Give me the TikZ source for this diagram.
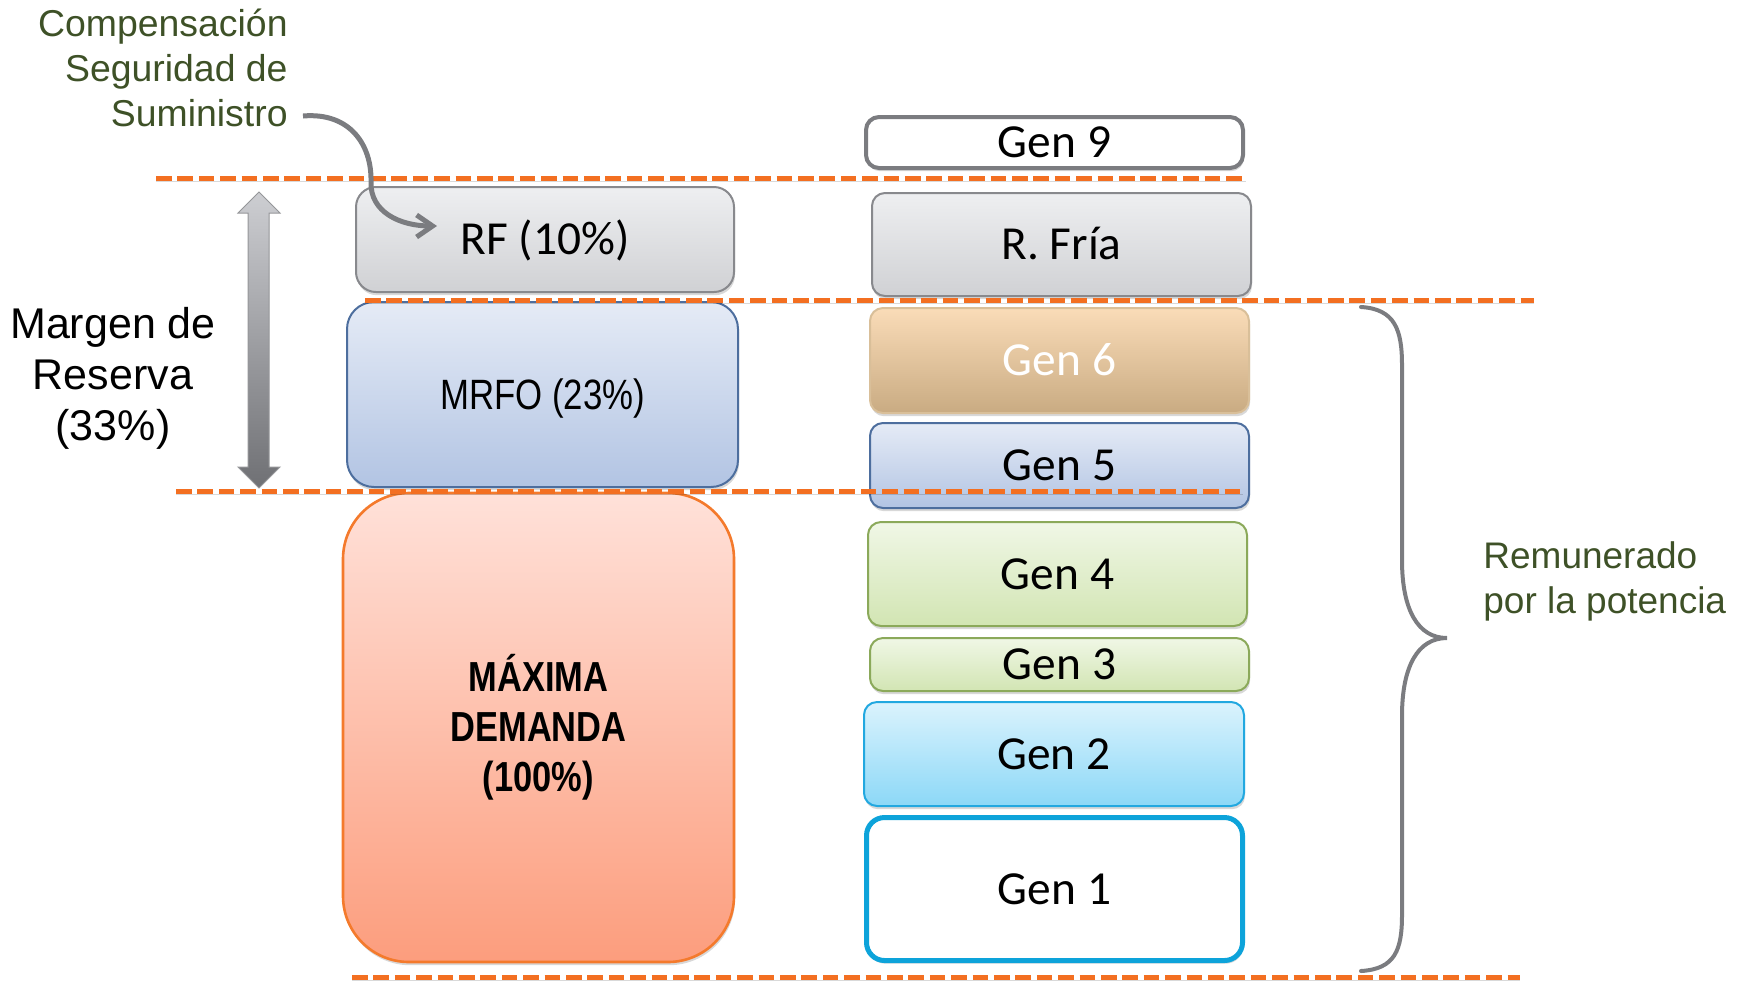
\documentclass[tikz,border=0pt]{standalone}
\usepackage{fontspec}
\setmainfont{Liberation Sans}
\newfontfamily\calibri{Carlito}
\newfontfamily\narrow[FakeStretch=0.82]{Liberation Sans}
\usetikzlibrary{shapes.geometric,arrows,arrows.meta,fit,positioning,shadows}
\definecolor{cutorange}{HTML}{F36F21}
\definecolor{olive}{HTML}{3E5127}
\definecolor{edgegray}{HTML}{7B7C80}
\definecolor{rftop}{HTML}{EEEFF1}
\definecolor{rfbot}{HTML}{D0D1D4}
\definecolor{tantop}{HTML}{FADCB8}
\definecolor{tanbot}{HTML}{C9AB82}
\definecolor{tanedge}{HTML}{D9BF99}
\definecolor{bluetop}{HTML}{E5EBF6}
\definecolor{bluebot}{HTML}{B2C4E3}
\definecolor{blueedge}{HTML}{4D6E9E}
\definecolor{greentop}{HTML}{F0F7E6}
\definecolor{greenbot}{HTML}{D2E5B3}
\definecolor{greenedge}{HTML}{8BA95A}
\definecolor{skytop}{HTML}{DBF3FD}
\definecolor{skybot}{HTML}{8CD8F7}
\definecolor{skyedge}{HTML}{22A8E0}
\definecolor{gen1edge}{HTML}{0DA3DA}
\definecolor{salmontop}{HTML}{FFE1D9}
\definecolor{salmonbot}{HTML}{FC9D7D}
\definecolor{salmonedge}{HTML}{F47A2C}
\definecolor{arrowtop}{HTML}{CDCED2}
\definecolor{arrowbot}{HTML}{6F7074}

\begin{document}
\begin{tikzpicture}[x=0.5pt,y=-0.5pt]
\tikzstyle{box}=[rectangle,rounded corners=6.5pt,inner sep=0pt,outer sep=0pt,
draw,line width=1pt,
drop shadow={shadow xshift=0.5pt,shadow yshift=-1.6pt,opacity=0.22,fill=black!70}]
\tikzstyle{genbox}=[box,minimum width=189.5pt,
font=\calibri\fontsize{23.7}{28}\selectfont,text height=15.2pt,text depth=0pt]
\tikzstyle{cutline}=[cutorange,line width=2.5pt,dash pattern=on 7.8pt off 2.9pt,
preaction={draw=black,opacity=0.15,transform canvas={yshift=-1.6pt}}]
\useasboundingbox (0,0) rectangle (1746,982);

\node[genbox,fill=white,draw=edgegray,line width=2pt,minimum width=188.5pt,minimum height=25.5pt] at (1054.5,142.5) (g9) {Gen 9};
\node[genbox,top color=rftop,bottom color=rfbot,draw=edgegray!90,minimum height=51.5pt] at (1061.5,244.5) (rfria) {R. Fría};
\node[genbox,top color=tantop,bottom color=tanbot,draw=tanedge,text=white,minimum height=52.5pt] at (1059.5,360.5) (g6) {Gen 6};
\node[genbox,top color=bluetop,bottom color=bluebot,draw=blueedge,minimum height=42.5pt] at (1059.5,465.5) (g5) {Gen 5};
\node[genbox,top color=greentop,bottom color=greenbot,draw=greenedge,minimum height=52pt] at (1057.5,574) (g4) {Gen 4};
\node[genbox,top color=greentop,bottom color=greenbot,draw=greenedge,minimum height=26.5pt] at (1059.5,664.5) (g3) {Gen 3};
\node[genbox,top color=skytop,bottom color=skybot,draw=skyedge,minimum width=190pt,minimum height=52pt] at (1054,754) (g2) {Gen 2};
\node[genbox,fill=white,draw=gen1edge,line width=2.5pt,rounded corners=9pt,minimum width=188pt,minimum height=71.5pt] at (1054.5,889) (g1) {Gen 1};

\node[genbox,top color=rftop,bottom color=rfbot,draw=edgegray!90,rounded corners=10pt,minimum width=189pt,minimum height=52.5pt] at (545,239.5) (rf) {RF (10\%)};
\node[box,top color=bluetop,bottom color=bluebot,draw=blueedge,rounded corners=13.5pt,minimum width=195.5pt,minimum height=92.5pt,
font=\narrow\fontsize{21.2}{25}\selectfont,text height=15pt,text depth=0pt] at (542.5,394.5) (mrfo) {MRFO (23\%)};
\node[box,top color=salmontop,bottom color=salmonbot,draw=salmonedge,line width=1.3pt,rounded corners=33pt,minimum width=195.5pt,minimum height=234.5pt,
font=\narrow\bfseries\fontsize{21}{25}\selectfont,align=center] at (538.5,727.5) (maxd) {MÁXIMA\\DEMANDA\\(100\%)};

\draw[cutline] (156,178) -- (1246,178);
\draw[cutline] (365,300) -- (1534,300);
\draw[cutline] (176,491) -- (1243,491);
\draw[cutline] (352,977) -- (1520,977);

\node[font=\fontsize{21.5}{25.5}\selectfont,align=center] at (113,378) (margen) {Margen de\\Reserva\\(33\%)};
\node[olive,font=\fontsize{18.7}{22.5}\selectfont,align=right,anchor=south east,inner sep=0pt] at (288,127) (comp) {Compensación\\Seguridad de\\Suministro};
\node[olive,font=\fontsize{18.5}{22.5}\selectfont,align=left,anchor=west,inner sep=0pt] at (1483,581) (remun) {Remunerado\\por la potencia};

\draw[draw=edgegray!80,line width=0.5pt,top color=arrowtop,bottom color=arrowbot]
(259,192) -- (280,213) -- (269,213) -- (269,467) -- (280,467) -- (259,488)
-- (238,467) -- (248,467) -- (248,213) -- (238,213) -- cycle;

\draw[edgegray,line width=2pt,line cap=round] (1361,307) .. controls (1395,309) and (1402,330) .. (1402,365)
-- (1402,560) .. controls (1402,610) and (1418,638) .. (1447,638)
.. controls (1418,638) and (1402,666) .. (1402,716)
-- (1402,915) .. controls (1402,950) and (1395,969) .. (1361,971);

\coordinate (c1) at (350,112);
\coordinate (c2) at (372,145);
\coordinate (c3) at (371,182);
\coordinate (c4) at (370,212);
\coordinate (c5) at (400,226);
\draw[edgegray,line width=2.5pt,-{Straight Barb[length=8pt,width=11pt]}]
([xshift=7.5pt,yshift=5.5pt]comp.south east) .. controls (c1) and (c2) .. (c3)
.. controls (c4) and (c5) .. ([xshift=40.5pt,yshift=6.75pt]rf.west);

\end{tikzpicture}
\end{document}
